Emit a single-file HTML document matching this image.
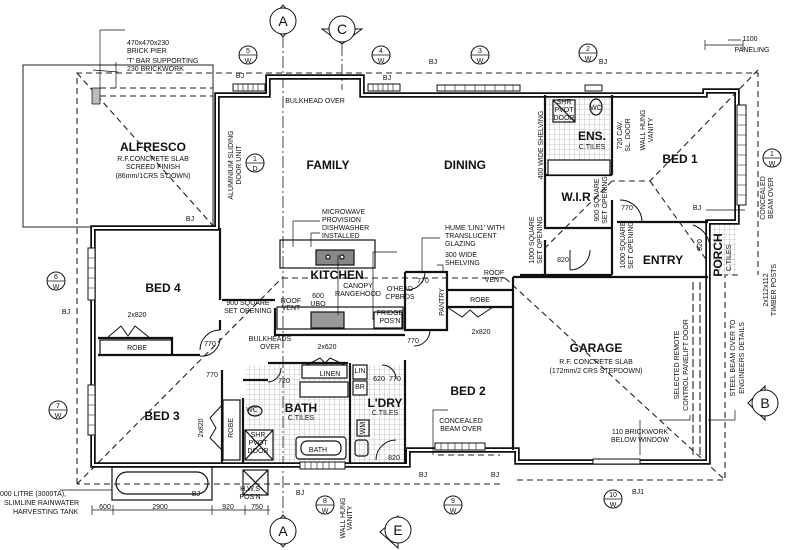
<!DOCTYPE html>
<html><head><meta charset="utf-8"><style>
html,body{margin:0;padding:0;background:#fff}
svg{display:block}
text{font-family:"Liberation Sans",sans-serif;fill:#111}
.s{font-size:7px}
.r{font-size:12px;font-weight:bold}
.m{font-size:8px}
</style></head><body>
<svg width="797" height="550" viewBox="0 0 797 550" xmlns="http://www.w3.org/2000/svg">
<defs>
<pattern id="tile" width="5" height="5" patternUnits="userSpaceOnUse"><path d="M5 0V5H0" fill="none" stroke="#999" stroke-width="0.6"/></pattern>
</defs>
<rect width="797" height="550" fill="#fff"/>
<rect x="245" y="365" width="105" height="97" fill="url(#tile)"/>
<rect x="352" y="365" width="53" height="97" fill="url(#tile)"/>
<rect x="547" y="97" width="63" height="66" fill="url(#tile)"/>
<rect x="712" y="225" width="24" height="50" fill="url(#tile)"/>
<g fill="none" stroke="#222" stroke-width="1.1" stroke-dasharray="6,4">
<path d="M77 484V73H758V275M738 275H725V480H517M500 484H77"/>
<path d="M77 73L215 228M77 484L282 278M282 278H505M505 278L725 480M758 70L650 181H612M650 181L708 262M612 181L545 248M100 88H213M100 96H213"/>
<path d="M438 455H500"/>
<path d="M693 282V455M700 282V455M708 282V455" stroke-dasharray="8,3"/>
</g>
<path d="M283 36V545M342 44V90" stroke="#333" stroke-width="0.9" stroke-dasharray="12,3,2,3" fill="none"/>
<rect x="23" y="65" width="190" height="162" fill="none" stroke="#222" stroke-width="1"/>
<rect x="92" y="88" width="8" height="16" fill="#bbb" stroke="#222" stroke-width="0.8"/>
<g fill="none" stroke-linejoin="miter">
<path d="M217 95H268V77H362V95H705V91H737V222H708V462H517V450H408V465H93V228H217Z" stroke="#111" stroke-width="5.5"/>
<path d="M217 95H268V77H362V95H705V91H737V222H708V462H517V450H408V465H93V228H217Z" stroke="#fff" stroke-width="2"/>
</g>
<g fill="none" stroke="#111" stroke-width="2.2">
<path d="M220 228V300M220 320V330M98 355H200M222 370V395M222 395V463M243 398V463M268 363H348M350 363V463M405 360V463M243 380H268"/>
<path d="M98 338H172V355"/>
<path d="M222 300H275M275 308V335H405M405 272H447V330H405V272"/>
<path d="M447 290H513M513 277H708M513 277V450M447 307H513"/>
<path d="M545 95V228H612M612 95V175M612 175H545M617 222H708M612 200V275M545 240V275M520 275H612"/>
</g>
<g fill="none" stroke="#111" stroke-width="1.2">
<rect x="280" y="240" width="95" height="28"/>
<rect x="316" y="250" width="38" height="15" fill="#888"/>
<circle cx="328" cy="257" r="2" fill="#fff"/><circle cx="342" cy="257" r="2" fill="#fff"/>
<rect x="277" y="307" width="126" height="22"/>
<rect x="311" y="312" width="33" height="16" fill="#999"/>
<rect x="374" y="312" width="28" height="16"/>
<rect x="100" y="340" width="72" height="15"/>
<rect x="302" y="365" width="45" height="13" fill="#fff"/>
<rect x="300" y="382" width="48" height="15" fill="#fff"/>
<rect x="353" y="365" width="14" height="14" fill="#fff"/>
<rect x="353" y="381" width="14" height="14" fill="#fff"/>
<rect x="296" y="437" width="50" height="22" rx="3" fill="#fff"/>
<rect x="301" y="441" width="40" height="14" rx="6" fill="#fff"/>
<rect x="223" y="400" width="17" height="60" fill="#fff"/>
<rect x="245" y="430" width="28" height="30" fill="#fff"/>
<path d="M245 430L273 460M273 430L245 460"/>
<rect x="548" y="160" width="62" height="15" fill="#fff"/>
<rect x="553" y="100" width="22" height="22"/>
<path d="M553 100L575 122"/>
<rect x="112" y="467" width="100" height="33"/>
<rect x="116" y="472" width="92" height="22" rx="11"/>
<rect x="243" y="470" width="25" height="25"/>
<path d="M243 470L268 495M268 470L243 495"/>
<ellipse cx="255" cy="411" rx="7" ry="5"/>
<ellipse cx="596" cy="107" rx="6" ry="8"/>
<rect x="357" y="420" width="12" height="16"/>
<rect x="355" y="440" width="13" height="16" rx="3"/>
</g>
<g fill="#fff" stroke="#111" stroke-width="1">
<rect x="233" y="84" width="32" height="7"/><rect x="368" y="84" width="32" height="7"/>
<rect x="437" y="85" width="83" height="6"/><rect x="585" y="85" width="17" height="6"/>
<rect x="737" y="105" width="9" height="100"/>
<rect x="88" y="248" width="7" height="52"/><rect x="88" y="385" width="7" height="50"/>
<rect x="300" y="462" width="45" height="7"/><rect x="435" y="443" width="50" height="7"/>
<rect x="593" y="459" width="47" height="5"/>
</g>
<g stroke="#111" stroke-width="0.6">
<path d="M238 84v7M243 84v7M248 84v7M253 84v7M258 84v7M373 84v7M378 84v7M383 84v7M388 84v7M393 84v7M445 85v6M455 85v6M465 85v6M475 85v6M485 85v6M495 85v6M505 85v6M513 85v6M305 462v7M311 462v7M317 462v7M323 462v7M329 462v7M335 462v7M441 443v7M448 443v7M455 443v7M462 443v7M469 443v7M476 443v7"/>
<path d="M737 115h9M737 125h9M737 135h9M737 145h9M737 155h9M737 165h9M737 175h9M737 185h9M737 195h9M88 258h7M88 268h7M88 278h7M88 288h7M88 395h7M88 405h7M88 415h7M88 425h7"/>
</g>
<g fill="none" stroke="#111" stroke-width="1">
<path d="M220 330A20 20 0 0 0 200 350M220 338A18 18 0 0 1 200 356M590 250A20 20 0 0 1 570 270M570 250V270M693 225A25 25 0 0 1 710 250M425 272A18 18 0 0 1 407 290M430 330A16 16 0 0 1 414 346M382 365A14 14 0 0 1 396 379M396 440A20 20 0 0 0 376 460M620 200A22 22 0 0 1 642 222M281 368A14 14 0 0 1 268 382"/>
<path d="M107 338L121 326L128 336L135 326L150 338M307 365L320 358L325 363L330 358L345 365M447 307L462 317L470 310L478 317L493 307M222 405L210 418L216 428L210 438L222 450"/>
</g>
<g fill="none" stroke="#111" stroke-width="0.7">
<path d="M100 30V88M100 30H125M116 62V88M293 221H320M293 221V247M311 233H320M311 233V247M440 238H422V272M437 265H443V273M397 252H373V320M338 255V315M448 410H433V455M118 72L93 70"/>
<path d="M705 45H743M705 40V50M743 40V50M741 40L728 40"/>
<path d="M92 510H270M92 505V515M113 505V515M212 505V515M245 505V515M268 505V515"/>
<path d="M60 490H112M640 420V455M706 210H745M735 410V420H708M660 420H690V415"/>
</g>
<g fill="#fff" stroke="#111" stroke-width="1">
<path d="M270 21L283 5L296 21L283 37Z"/><circle cx="283" cy="21" r="13"/>
<path d="M322 29L342 44L362 29Z"/><circle cx="342" cy="29" r="13"/>
<path d="M270 531L283 515L296 531L283 547Z"/><circle cx="283" cy="531" r="13"/>
<path d="M380 532L398 516L398 548Z"/><circle cx="398" cy="530" r="13"/>
<path d="M748 403L765 386L765 420Z"/><circle cx="765" cy="403" r="13"/>
<circle cx="248" cy="55" r="9"/><circle cx="381" cy="55" r="9"/><circle cx="480" cy="55" r="9"/><circle cx="588" cy="53" r="9"/>
<circle cx="772" cy="158" r="9"/><circle cx="56" cy="281" r="9"/><circle cx="58" cy="410" r="9"/>
<circle cx="325" cy="505" r="9"/><circle cx="453" cy="505" r="9"/><circle cx="613" cy="499" r="9"/><circle cx="255" cy="163" r="9"/>
</g>
<g stroke="#111" stroke-width="0.8"><path d="M239 55h18M372 55h18M471 55h18M579 53h18M763 158h18M47 281h18M49 410h18M316 505h18M444 505h18M604 499h18M246 163h18"/></g>
<g font-size="14" text-anchor="middle"><text x="283" y="26">A</text><text x="342" y="34">C</text><text x="283" y="536">A</text><text x="398" y="535">E</text><text x="765" y="408">B</text></g>
<g class="s" text-anchor="middle">
<text x="248" y="53">5</text><text x="248" y="63">W</text><text x="381" y="53">4</text><text x="381" y="63">W</text>
<text x="480" y="53">3</text><text x="480" y="63">W</text><text x="588" y="51">2</text><text x="588" y="61">W</text>
<text x="772" y="156">1</text><text x="772" y="166">W</text><text x="56" y="279">6</text><text x="56" y="289">W</text>
<text x="58" y="408">7</text><text x="58" y="418">W</text><text x="325" y="503">8</text><text x="325" y="513">W</text>
<text x="453" y="503">9</text><text x="453" y="513">W</text><text x="613" y="497">10</text><text x="613" y="507">W</text>
<text x="255" y="161">1</text><text x="255" y="171">D</text>
</g>
<g class="r" text-anchor="middle">
<text x="153" y="151">ALFRESCO</text><text x="328" y="169">FAMILY</text><text x="465" y="169">DINING</text>
<text x="680" y="163">BED 1</text><text x="592" y="140">ENS.</text><text x="576" y="201">W.I.R</text>
<text x="337" y="279">KITCHEN</text><text x="663" y="264">ENTRY</text><text x="163" y="292">BED 4</text>
<text x="162" y="420">BED 3</text><text x="301" y="412">BATH</text><text x="385" y="407">L'DRY</text>
<text x="468" y="395">BED 2</text><text x="596" y="352">GARAGE</text>
</g>
<text class="r" transform="translate(722,255) rotate(-90)" text-anchor="middle">PORCH</text>
<g class="s" text-anchor="middle">
<text x="153" y="161">R.F.CONCRETE SLAB</text><text x="153" y="169">SCREED FINISH</text><text x="153" y="178">(86mm/1CRS S'DOWN)</text>
<text x="592" y="149">C.TILES</text><text x="301" y="420">C.TILES</text><text x="385" y="415">C.TILES</text>
<text x="596" y="364">R.F. CONCRETE SLAB</text><text x="596" y="373">(172mm/2 CRS STEPDOWN)</text>
<text x="137" y="350">ROBE</text><text x="480" y="302">ROBE</text><text x="137" y="317">2x820</text><text x="481" y="334">2x820</text>
<text x="327" y="349">2x620</text><text x="330" y="376">LINEN</text><text x="360" y="373">LIN</text><text x="360" y="389">BR</text>
<text x="318" y="452">BATH</text><text x="210" y="346">770</text><text x="212" y="377">770</text><text x="413" y="343">770</text>
<text x="423" y="283">770</text><text x="284" y="383">720</text><text x="379" y="381">620</text><text x="395" y="381">770</text>
<text x="394" y="460">820</text><text x="563" y="262">820</text><text x="627" y="210">770</text>
<text x="252" y="412">WC</text><text x="596" y="110">WC</text>
<text x="258" y="437">SHR</text><text x="258" y="445">PVOT</text><text x="258" y="453">DOOR</text>
<text x="564" y="104">SHR</text><text x="564" y="112">PVOT</text><text x="564" y="120">DOOR</text>
<text x="248" y="305">900 SQUARE</text><text x="248" y="313">SET OPENING</text>
<text x="291" y="303">ROOF</text><text x="291" y="310">VENT</text><text x="318" y="298">600</text><text x="318" y="306">UBO</text>
<text x="358" y="288">CANOPY</text><text x="358" y="296">RANGEHOOD</text><text x="400" y="291">O'HEAD</text><text x="400" y="299">CPBRDS</text>
<text x="390" y="315">FRIDGE</text><text x="390" y="323">POS'N</text>
<text x="270" y="341">BULKHEADS</text><text x="270" y="349">OVER</text>
<text x="315" y="103">BULKHEAD OVER</text>
<text x="494" y="275">ROOF</text><text x="494" y="282">VENT</text>
<text x="461" y="423">CONCEALED</text><text x="461" y="431">BEAM OVER</text>
<text x="640" y="434">110 BRICKWORK</text><text x="640" y="442">BELOW WINDOW</text>
<text x="250" y="491">H.W.S</text><text x="250" y="499">POS'N</text>
<text x="105" y="509">600</text><text x="160" y="509">2900</text><text x="228" y="509">920</text><text x="257" y="509">750</text>
<text x="750" y="41">1100</text><text x="752" y="52">PANELING</text>
<text x="240" y="78">BJ</text><text x="387" y="80">BJ</text><text x="433" y="64">BJ</text><text x="603" y="64">BJ</text>
<text x="697" y="210">BJ</text><text x="190" y="221">BJ</text><text x="66" y="314">BJ</text><text x="196" y="496">BJ</text>
<text x="300" y="495">BJ</text><text x="423" y="477">BJ</text><text x="495" y="477">BJ</text><text x="638" y="494">BJ1</text>
</g>
<g class="s">
<text x="127" y="45">470x470x230</text><text x="127" y="53">BRICK PIER</text><text x="127" y="63">'T' BAR SUPPORTING</text><text x="127" y="71">230 BRICKWORK</text>
<text x="322" y="214">MICROWAVE</text><text x="322" y="222">PROVISION</text><text x="322" y="230">DISHWASHER</text><text x="322" y="238">INSTALLED</text>
<text x="445" y="230">HUME 'LIN1' WITH</text><text x="445" y="238">TRANSLUCENT</text><text x="445" y="246">GLAZING</text>
<text x="445" y="257">300 WIDE</text><text x="445" y="265">SHELVING</text>
<text x="0" y="496">000 LITRE (3000TA),</text><text x="4" y="505">SLIMLINE RAINWATER</text><text x="13" y="514">HARVESTING TANK</text>
</g>
<g class="s" text-anchor="middle">
<text transform="translate(233,165) rotate(-90)">ALUMINIUM SLIDING</text><text transform="translate(241,165) rotate(-90)">DOOR UNIT</text>
<text transform="translate(543,145) rotate(-90)">400 WIDE SHELVING</text>
<text transform="translate(622,135) rotate(-90)">720 CAV.</text><text transform="translate(630,135) rotate(-90)">SL. DOOR</text>
<text transform="translate(645,130) rotate(-90)">WALL HUNG</text><text transform="translate(653,130) rotate(-90)">VANITY</text>
<text transform="translate(599,200) rotate(-90)">900 SQUARE</text><text transform="translate(607,200) rotate(-90)">SET OPENING</text>
<text transform="translate(534,240) rotate(-90)">1000 SQUARE</text><text transform="translate(542,240) rotate(-90)">SET OPENING</text>
<text transform="translate(625,245) rotate(-90)">1000 SQUARE</text><text transform="translate(633,245) rotate(-90)">SET OPENING</text>
<text transform="translate(702,245) rotate(-90)">920</text>
<text transform="translate(731,258) rotate(-90)">C.TILES</text>
<text transform="translate(765,198) rotate(-90)">CONCEALED</text><text transform="translate(773,198) rotate(-90)">BEAM OVER</text>
<text transform="translate(768,290) rotate(-90)">2x112x112</text><text transform="translate(776,290) rotate(-90)">TIMBER POSTS</text>
<text transform="translate(679,365) rotate(-90)">SELECTED REMOTE</text><text transform="translate(688,365) rotate(-90)">CONTROL PANELIFT DOOR</text>
<text transform="translate(735,358) rotate(-90)">STEEL BEAM OVER TO</text><text transform="translate(744,358) rotate(-90)">ENGINEERS DETAILS</text>
<text transform="translate(444,302) rotate(-90)">PANTRY</text><text transform="translate(233,428) rotate(-90)">ROBE</text>
<text transform="translate(203,428) rotate(-90)">2x820</text>
<text transform="translate(345,518) rotate(-90)">WALL HUNG</text><text transform="translate(352,518) rotate(-90)">VANITY</text>
<text transform="translate(365,428) rotate(-90)">WM</text>
</g>
</svg>
</body></html>
